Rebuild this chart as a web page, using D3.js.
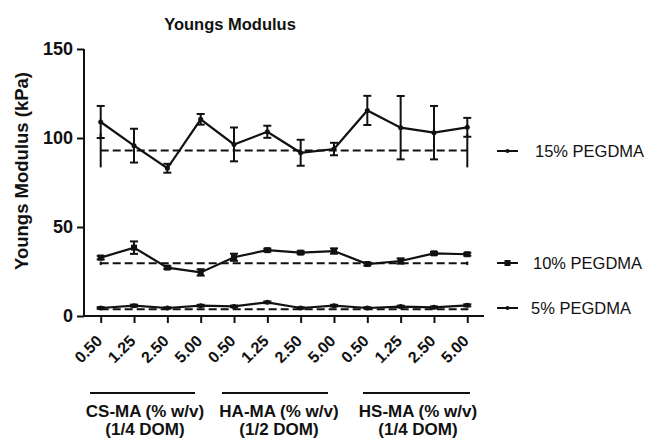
<!DOCTYPE html>
<html>
<head>
<meta charset="utf-8">
<script src="https://cdn.jsdelivr.net/npm/d3@7"></script>
<style>
  body { margin: 0; background: #fff; }
  text { font-family: "Liberation Sans", Arial, sans-serif; fill: #111; }
</style>
</head>
<body>
<div id="chart"></div>
<script>
// data
var tickLabels = ["0.50", "1.25", "2.50", "5.00", "0.50", "1.25", "2.50", "5.00", "0.50", "1.25", "2.50", "5.00"];
var groupNames = [["CS-MA (% w/v)", "(1/4 DOM)"], ["HA-MA (% w/v)", "(1/2 DOM)"], ["HS-MA (% w/v)", "(1/4 DOM)"]];
var seriesNames = ["15% PEGDMA", "10% PEGDMA", "5% PEGDMA"];

var mean15 = [109, 95.7, 83, 110.5, 96.4, 103.5, 91.7, 93.8, 115.5, 105.8, 103, 106];
var err15 = [9, 9.5, 2.5, 3, 9.5, 3.4, 7.3, 3.5, 8.2, 17.8, 15, 5.3];
var mean10 = [32.8, 38.4, 27.2, 24.5, 33, 37, 35.6, 36.5, 29.2, 30.9, 35.2, 34.7];
var err10 = [1, 3.5, 0.8, 1.8, 2, 0.8, 0.8, 1.5, 0.8, 1.5, 0.8, 0.8];
var mean5 = [4.5, 5.8, 4.5, 5.8, 5.4, 7.7, 4.5, 5.8, 4.5, 5.3, 4.9, 6];
var err5 = [0.5, 0.6, 0.4, 0.5, 0.5, 0.5, 0.4, 0.5, 0.4, 0.5, 0.5, 0.6];

// PEGDMA-only controls (dashed lines)
var controlMean = [93, 29.6, 3.8];
var controlErr = [9.5, 1, 0.5];

var svgWidth = 647;
var svgHeight = 438;

var svg = d3.select("#chart")
  .append("svg")
  .attr("width", svgWidth)
  .attr("height", svgHeight);

var idx = d3.range(tickLabels.length);

var x = d3.scalePoint()
  .domain(idx)
  .range([100.7, 467.3]);

var y = d3.scaleLinear()
  .domain([0, 150])
  .range([316, 49]);

// title
svg.append("text")
  .attr("x", 230)
  .attr("y", 30)
  .attr("text-anchor", "middle")
  .style("font-size", "16.5px")
  .style("font-weight", "bold")
  .text("Youngs Modulus");

// y axis
var yAxis = svg.append("g")
  .attr("transform", "translate(84,0)")
  .call(d3.axisLeft(y).tickValues([0, 50, 100, 150]).tickSize(7).tickPadding(4));
yAxis.select(".domain").attr("stroke", "#111").attr("stroke-width", 2).attr("d", "M0," + y(0) + "V" + y(150));
yAxis.selectAll(".tick line").attr("stroke", "#111").attr("stroke-width", 2);
yAxis.selectAll(".tick text")
  .style("font-size", "18px")
  .style("font-weight", "bold")
  .style("font-family", "Liberation Sans, Arial, sans-serif")
  .attr("fill", "#111");

svg.append("text")
  .attr("transform", "translate(28,171) rotate(-90)")
  .attr("text-anchor", "middle")
  .style("font-size", "18.5px")
  .style("font-weight", "bold")
  .text("Youngs Modulus (kPa)");

// x axis
svg.append("line")
  .attr("x1", 83).attr("x2", 484)
  .attr("y1", y(0)).attr("y2", y(0))
  .attr("stroke", "#111").attr("stroke-width", 2);

var xAxis = svg.append("g")
  .attr("transform", "translate(0," + y(0) + ")")
  .call(d3.axisBottom(x).tickSize(7).tickFormat(function(d) { return tickLabels[d]; }));
xAxis.select(".domain").remove();
xAxis.selectAll(".tick line").attr("stroke", "#111").attr("stroke-width", 2);
xAxis.selectAll(".tick text")
  .attr("transform", "translate(2,26) rotate(-45)")
  .attr("text-anchor", "end")
  .attr("x", 0)
  .attr("y", 0)
  .attr("dy", 0)
  .style("font-size", "16px")
  .style("font-weight", "bold")
  .style("font-family", "Liberation Sans, Arial, sans-serif")
  .attr("fill", "#111");

// group labels under the axis
var groupSpans = [[90, 195], [222, 328], [363, 470]];
var groupCenters = [145, 279, 418];
groupNames.forEach(function(g, i) {
  var s = groupSpans[i];
  svg.append("line")
    .attr("x1", s[0]).attr("x2", s[1])
    .attr("y1", 393).attr("y2", 393)
    .attr("stroke", "#111").attr("stroke-width", 2);
  svg.append("text")
    .attr("x", groupCenters[i])
    .attr("y", 417)
    .attr("text-anchor", "middle")
    .style("font-size", "17px")
    .style("font-weight", "bold")
    .text(g[0]);
  svg.append("text")
    .attr("x", groupCenters[i])
    .attr("y", 435)
    .attr("text-anchor", "middle")
    .style("font-size", "17px")
    .style("font-weight", "bold")
    .text(g[1]);
});

// control dashed lines with end error bars
controlMean.forEach(function(m, i) {
  svg.append("line")
    .attr("x1", x(0)).attr("x2", x(11))
    .attr("y1", y(m)).attr("y2", y(m))
    .attr("stroke", "#111").attr("stroke-width", 2)
    .attr("stroke-dasharray", "8,4");
  [0, 11].forEach(function(k) {
    svg.append("line")
      .attr("x1", x(k)).attr("x2", x(k))
      .attr("y1", y(m - controlErr[i])).attr("y2", y(m + controlErr[i]))
      .attr("stroke", "#111").attr("stroke-width", 2);
  });
});

// series
var series = [
  { name: seriesNames[0], mean: mean15, err: err15, marker: "dot" },
  { name: seriesNames[1], mean: mean10, err: err10, marker: "square" },
  { name: seriesNames[2], mean: mean5, err: err5, marker: "dot" }
];

var line = d3.line()
  .x(function(d, i) { return x(i); })
  .y(function(d) { return y(d); });

series.forEach(function(s) {
  var g = svg.append("g");
  g.append("path")
    .datum(s.mean)
    .attr("d", line)
    .attr("fill", "none")
    .attr("stroke", "#111")
    .attr("stroke-width", 2.2);

  var eb = g.selectAll("g.err")
    .data(s.mean)
    .enter()
    .append("g")
    .classed("err", true);
  eb.append("line")
    .attr("x1", function(d, i) { return x(i); })
    .attr("x2", function(d, i) { return x(i); })
    .attr("y1", function(d, i) { return y(d - s.err[i]); })
    .attr("y2", function(d, i) { return y(d + s.err[i]); })
    .attr("stroke", "#111").attr("stroke-width", 2);
  [-1, 1].forEach(function(sign) {
    eb.append("line")
      .attr("x1", function(d, i) { return x(i) - 4; })
      .attr("x2", function(d, i) { return x(i) + 4; })
      .attr("y1", function(d, i) { return y(d + sign * s.err[i]); })
      .attr("y2", function(d, i) { return y(d + sign * s.err[i]); })
      .attr("stroke", "#111").attr("stroke-width", 2);
  });

  if (s.marker === "square") {
    g.selectAll("rect.mk")
      .data(s.mean)
      .enter()
      .append("rect")
      .classed("mk", true)
      .attr("x", function(d, i) { return x(i) - 3; })
      .attr("y", function(d) { return y(d) - 3; })
      .attr("width", 6).attr("height", 6)
      .attr("fill", "#111");
  } else {
    g.selectAll("circle.mk")
      .data(s.mean)
      .enter()
      .append("circle")
      .classed("mk", true)
      .attr("cx", function(d, i) { return x(i); })
      .attr("cy", function(d) { return y(d); })
      .attr("r", 2.5)
      .attr("fill", "#111");
  }
});

// legend
var legendY = [151, 263, 308];
var legendTextX = [535, 533, 531];
series.forEach(function(s, i) {
  var ly = legendY[i];
  svg.append("line")
    .attr("x1", 497).attr("x2", 518)
    .attr("y1", ly).attr("y2", ly)
    .attr("stroke", "#111").attr("stroke-width", 2);
  if (s.marker === "square") {
    svg.append("rect")
      .attr("x", 504.5).attr("y", ly - 3)
      .attr("width", 6).attr("height", 6)
      .attr("fill", "#111");
  } else {
    svg.append("circle")
      .attr("cx", 507.5).attr("cy", ly)
      .attr("r", 2)
      .attr("fill", "#111");
  }
  svg.append("text")
    .attr("x", legendTextX[i])
    .attr("y", ly + 6)
    .style("font-size", "16.5px")
    .text(s.name);
});
</script>
</body>
</html>
